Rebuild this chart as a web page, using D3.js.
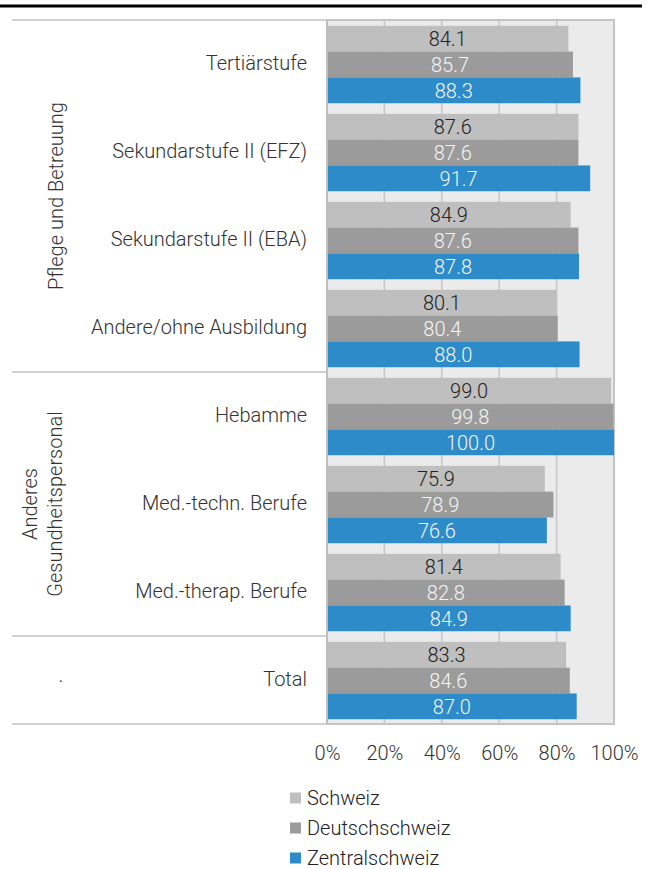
<!DOCTYPE html>
<html>
<head>
<meta charset="utf-8">
<script src="https://cdn.jsdelivr.net/npm/d3@7"></script>
<style>
  body { margin: 0; background: #fff; }
  svg { display: block; font-family: "Roboto Light", Roboto, "Noto Sans", sans-serif; font-weight: 300; }
  svg text { font-family: "Roboto Light", Roboto, "Noto Sans", sans-serif; font-weight: 300; }
</style>
</head>
<body>
<div id="chart"></div>
<script>
// Data
const categories = [
  'Tertiärstufe', 'Sekundarstufe II (EFZ)', 'Sekundarstufe II (EBA)', 'Andere/ohne Ausbildung',
  'Hebamme', 'Med.-techn. Berufe', 'Med.-therap. Berufe', 'Total'
];
const series = ['Schweiz', 'Deutschschweiz', 'Zentralschweiz'];
const schweiz = [84.1, 87.6, 84.9, 80.1, 99.0, 75.9, 81.4, 83.3];
const deutschschweiz = [85.7, 87.6, 87.6, 80.4, 99.8, 78.9, 82.8, 84.6];
const zentralschweiz = [88.3, 91.7, 87.8, 88.0, 100.0, 76.6, 84.9, 87.0];
const groupNames = [['Pflege und Betreuung'], ['Anderes', 'Gesundheitspersonal'], ['.']];
const groupSizes = [4, 3, 1];
const xTicks = [0, 20, 40, 60, 80, 100];

const values = [schweiz, deutschschweiz, zentralschweiz];
const colors = ['#bfbfbf', '#9b9b9b', '#2d8bc9'];
const labelColors = ['#222', '#f4f4f4', '#f4f4f4'];
const fontSize = 20;

const width = 650, height = 869;
const plot = { left: 327, right: 614, top: 20, bottom: 724 };

const svg = d3.select('#chart').append('svg')
  .attr('width', width)
  .attr('height', height);

// top rule
svg.append('line')
  .attr('x1', 0).attr('x2', 642).attr('y1', 6).attr('y2', 6)
  .attr('stroke', '#000').attr('stroke-width', 3);

const x = d3.scaleLinear().domain([0, 100]).range([plot.left, plot.right]);
const y = d3.scaleBand().domain(categories).range([plot.top, plot.bottom]);
const y1 = d3.scaleBand().domain(series).range([0, y.bandwidth()])
  .paddingOuter(0.205).align(0.55);

// plot background
svg.append('rect')
  .attr('x', plot.left).attr('y', plot.top)
  .attr('width', plot.right - plot.left).attr('height', plot.bottom - plot.top)
  .attr('fill', '#ebebeb')
  .attr('stroke', '#c4c4c4').attr('stroke-width', 2);

// gridlines
svg.append('g').selectAll('line')
  .data(xTicks.slice(1, -1))
  .enter().append('line')
  .attr('x1', d => x(d)).attr('x2', d => x(d))
  .attr('y1', plot.top).attr('y2', plot.bottom)
  .attr('stroke', '#c6c6c6').attr('stroke-width', 1.5);

// bars
const rows = svg.append('g').selectAll('g')
  .data(categories)
  .enter().append('g')
  .attr('transform', d => `translate(0,${y(d)})`);

series.forEach((s, si) => {
  rows.append('rect')
    .attr('x', x(0))
    .attr('y', y1(s))
    .attr('height', y1.bandwidth())
    .attr('width', (d, i) => x(values[si][i]) - x(0))
    .attr('fill', colors[si]);

  rows.append('text')
    .attr('x', (d, i) => (x(0) + x(values[si][i])) / 2)
    .attr('y', y1(s) + y1.bandwidth() / 2)
    .attr('dy', '0.36em')
    .attr('text-anchor', 'middle')
    .attr('font-size', fontSize)
    .attr('fill', labelColors[si])
    .text((d, i) => d3.format('.1f')(values[si][i]));
});

// category axis line
svg.append('line')
  .attr('x1', plot.left).attr('x2', plot.left)
  .attr('y1', plot.top).attr('y2', plot.bottom)
  .attr('stroke', '#bfbfbf').attr('stroke-width', 2);

// category labels
svg.append('g')
  .attr('transform', `translate(${plot.left},0)`)
  .call(d3.axisLeft(y).tickSize(0).tickPadding(20))
  .call(g => g.select('.domain').remove())
  .selectAll('text')
  .attr('font-size', fontSize)
  .attr('fill', '#333');

// group separators and group labels
let start = 0;
const bounds = [0];
groupSizes.forEach(n => { start += n; bounds.push(start); });
const yAt = k => k < categories.length ? y(categories[k]) : plot.bottom;

svg.append('g').selectAll('line')
  .data(bounds)
  .enter().append('line')
  .attr('x1', 12).attr('x2', plot.left)
  .attr('y1', d => yAt(d))
  .attr('y2', d => yAt(d))
  .attr('stroke', '#c0c0c0').attr('stroke-width', 1.5);

groupNames.forEach((lines, gi) => {
  const cy = (yAt(bounds[gi]) + yAt(bounds[gi + 1])) / 2;
  if (lines[0] === '.') {
    svg.append('text')
      .attr('x', 61).attr('y', cy).attr('dy', '0.1em')
      .attr('text-anchor', 'middle')
      .attr('font-size', fontSize).attr('fill', '#333')
      .text('.');
    return;
  }
  const cx = lines.length === 1 ? 56 : 42.5;
  const t = svg.append('text')
    .attr('transform', `translate(${cx},${cy}) rotate(-90)`)
    .attr('text-anchor', 'middle')
    .attr('font-size', fontSize).attr('fill', '#333');
  lines.forEach((l, li) => {
    t.append('tspan')
      .attr('x', 0)
      .attr('y', (li - (lines.length - 1) / 2) * 25)
      .attr('dy', '0.36em')
      .text(l);
  });
});

// x axis
svg.append('g')
  .attr('transform', `translate(0,${plot.bottom})`)
  .call(d3.axisBottom(x).tickValues(xTicks).tickSize(0).tickPadding(22).tickFormat(d => d + '%'))
  .call(g => g.select('.domain').remove())
  .selectAll('text')
  .attr('font-size', fontSize)
  .attr('fill', '#333');

// legend
const legend = svg.append('g').selectAll('g')
  .data(series)
  .enter().append('g')
  .attr('transform', (d, i) => `translate(290,${798 + i * 30})`);

legend.append('rect')
  .attr('x', 0).attr('y', -5.5)
  .attr('width', 11).attr('height', 11)
  .attr('fill', (d, i) => colors[i]);

legend.append('text')
  .attr('x', 17).attr('y', 0).attr('dy', '0.36em')
  .attr('font-size', fontSize).attr('fill', '#222')
  .text(d => d);
</script>
</body>
</html>
